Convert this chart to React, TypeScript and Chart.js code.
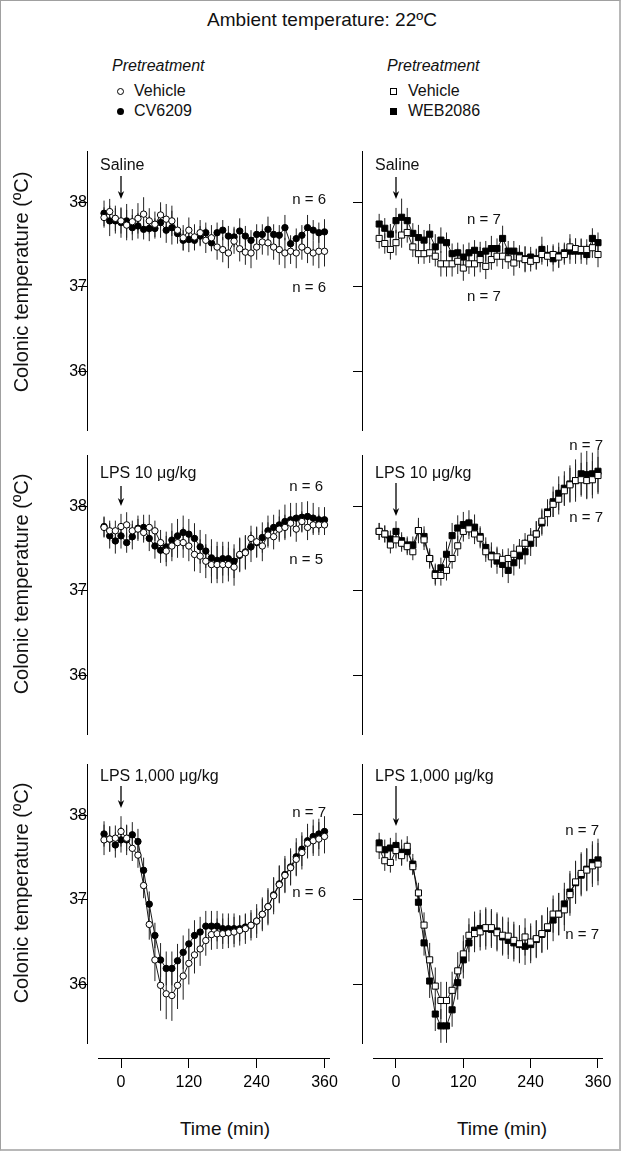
import React, { useEffect, useRef } from "react";
import { Chart, registerables } from "chart.js";

Chart.register(...registerables);

// ---------------- DATA ----------------
const TIMES = [-30, -20, -10, 0, 10, 20, 30, 40, 50, 60, 70, 80, 90, 100, 110, 120, 130, 140, 150, 160, 170, 180, 190, 200, 210, 220, 230, 240, 250, 260, 270, 280, 290, 300, 310, 320, 330, 340, 350, 360];
const X_TICKS = [0, 120, 240, 360];
const Y_TICKS = [36, 37, 38];
const Y_MIN = 35.3;
const Y_MAX = 38.6;
const X_MIN = -40;
const X_MAX = 368;

// Panel 1 (Saline) – left: Vehicle / CV6209
const P1L_CV = [37.87, 37.78, 37.78, 37.76, 37.78, 37.70, 37.72, 37.68, 37.69, 37.69, 37.76, 37.67, 37.70, 37.63, 37.55, 37.56, 37.55, 37.60, 37.64, 37.52, 37.64, 37.67, 37.60, 37.59, 37.66, 37.60, 37.55, 37.62, 37.62, 37.68, 37.62, 37.61, 37.70, 37.51, 37.57, 37.61, 37.70, 37.67, 37.64, 37.65];
const P1L_CV_SEM = [0.15, 0.18, 0.15, 0.18, 0.2, 0.15, 0.15, 0.12, 0.15, 0.12, 0.18, 0.15, 0.2, 0.12, 0.12, 0.15, 0.12, 0.12, 0.12, 0.1, 0.12, 0.12, 0.12, 0.12, 0.15, 0.12, 0.12, 0.12, 0.12, 0.15, 0.12, 0.12, 0.15, 0.1, 0.12, 0.12, 0.15, 0.12, 0.12, 0.15];
const P1L_VEH = [37.82, 37.89, 37.81, 37.78, 37.73, 37.77, 37.81, 37.86, 37.78, 37.74, 37.85, 37.80, 37.78, 37.67, 37.58, 37.67, 37.59, 37.64, 37.55, 37.58, 37.47, 37.44, 37.40, 37.54, 37.45, 37.41, 37.40, 37.47, 37.53, 37.52, 37.47, 37.44, 37.40, 37.42, 37.40, 37.47, 37.43, 37.40, 37.42, 37.42];
const P1L_VEH_SEM = [0.12, 0.15, 0.15, 0.15, 0.18, 0.15, 0.18, 0.2, 0.15, 0.15, 0.15, 0.18, 0.18, 0.15, 0.15, 0.15, 0.15, 0.15, 0.15, 0.15, 0.15, 0.15, 0.18, 0.15, 0.15, 0.15, 0.18, 0.15, 0.15, 0.15, 0.15, 0.18, 0.18, 0.15, 0.18, 0.15, 0.15, 0.15, 0.2, 0.18];

// Panel 1 (Saline) – right: Vehicle / WEB2086
const P1R_WEB = [37.74, 37.69, 37.62, 37.78, 37.82, 37.78, 37.63, 37.58, 37.55, 37.62, 37.47, 37.55, 37.52, 37.39, 37.40, 37.35, 37.40, 37.43, 37.38, 37.42, 37.45, 37.45, 37.57, 37.42, 37.42, 37.37, 37.33, 37.35, 37.33, 37.44, 37.37, 37.33, 37.37, 37.40, 37.42, 37.42, 37.42, 37.38, 37.57, 37.52];
const P1R_WEB_SEM = [0.12, 0.12, 0.12, 0.15, 0.22, 0.15, 0.12, 0.15, 0.12, 0.12, 0.15, 0.15, 0.12, 0.12, 0.12, 0.15, 0.12, 0.12, 0.15, 0.12, 0.15, 0.12, 0.15, 0.12, 0.12, 0.12, 0.15, 0.12, 0.12, 0.15, 0.12, 0.15, 0.15, 0.12, 0.15, 0.15, 0.15, 0.12, 0.12, 0.12];
const P1R_VEH = [37.57, 37.51, 37.44, 37.52, 37.61, 37.64, 37.47, 37.39, 37.39, 37.40, 37.36, 37.27, 37.27, 37.27, 37.30, 37.22, 37.27, 37.27, 37.32, 37.24, 37.32, 37.36, 37.36, 37.33, 37.28, 37.34, 37.32, 37.30, 37.32, 37.38, 37.36, 37.38, 37.35, 37.38, 37.47, 37.45, 37.44, 37.44, 37.46, 37.38];
const P1R_VEH_SEM = [0.12, 0.12, 0.12, 0.15, 0.15, 0.12, 0.12, 0.12, 0.12, 0.12, 0.12, 0.15, 0.15, 0.15, 0.15, 0.15, 0.12, 0.15, 0.15, 0.15, 0.12, 0.12, 0.15, 0.12, 0.15, 0.12, 0.15, 0.12, 0.12, 0.12, 0.12, 0.12, 0.12, 0.12, 0.15, 0.12, 0.12, 0.12, 0.12, 0.15];

// Panel 2 (LPS 10) – left
const P2L_CV = [37.76, 37.65, 37.59, 37.65, 37.57, 37.64, 37.74, 37.75, 37.62, 37.53, 37.48, 37.52, 37.60, 37.65, 37.69, 37.67, 37.62, 37.52, 37.47, 37.39, 37.36, 37.38, 37.38, 37.35, 37.42, 37.46, 37.52, 37.57, 37.63, 37.71, 37.75, 37.78, 37.82, 37.84, 37.86, 37.87, 37.88, 37.86, 37.84, 37.84];
const P2L_CV_SEM = [0.12, 0.15, 0.15, 0.15, 0.12, 0.15, 0.15, 0.15, 0.15, 0.15, 0.15, 0.18, 0.2, 0.2, 0.2, 0.18, 0.18, 0.2, 0.2, 0.22, 0.22, 0.2, 0.2, 0.2, 0.2, 0.2, 0.18, 0.18, 0.18, 0.18, 0.15, 0.18, 0.2, 0.2, 0.18, 0.18, 0.18, 0.18, 0.15, 0.15];
const P2L_VEH = [37.75, 37.71, 37.71, 37.76, 37.78, 37.71, 37.73, 37.69, 37.75, 37.71, 37.57, 37.47, 37.53, 37.57, 37.57, 37.53, 37.43, 37.41, 37.35, 37.31, 37.31, 37.31, 37.31, 37.28, 37.43, 37.45, 37.62, 37.58, 37.53, 37.66, 37.64, 37.73, 37.75, 37.80, 37.73, 37.82, 37.75, 37.78, 37.78, 37.78];
const P2L_VEH_SEM = [0.12, 0.12, 0.12, 0.15, 0.15, 0.12, 0.12, 0.12, 0.15, 0.12, 0.15, 0.18, 0.18, 0.18, 0.18, 0.18, 0.2, 0.2, 0.2, 0.22, 0.22, 0.22, 0.2, 0.22, 0.2, 0.2, 0.15, 0.18, 0.18, 0.15, 0.15, 0.15, 0.15, 0.15, 0.15, 0.12, 0.15, 0.12, 0.12, 0.12];

// Panel 2 (LPS 10) – right
const P2R_WEB = [37.70, 37.67, 37.61, 37.70, 37.59, 37.54, 37.54, 37.71, 37.64, 37.38, 37.20, 37.27, 37.43, 37.65, 37.74, 37.78, 37.80, 37.75, 37.64, 37.51, 37.42, 37.35, 37.31, 37.24, 37.33, 37.41, 37.46, 37.56, 37.67, 37.80, 37.93, 38.05, 38.15, 38.21, 38.26, 38.30, 38.38, 38.37, 38.38, 38.41];
const P2R_WEB_SEM = [0.1, 0.1, 0.1, 0.12, 0.1, 0.1, 0.1, 0.15, 0.12, 0.12, 0.12, 0.12, 0.15, 0.15, 0.15, 0.15, 0.15, 0.15, 0.12, 0.12, 0.15, 0.15, 0.15, 0.15, 0.15, 0.15, 0.15, 0.15, 0.15, 0.15, 0.15, 0.18, 0.2, 0.2, 0.22, 0.25, 0.25, 0.28, 0.25, 0.25];
const P2R_VEH = [37.70, 37.67, 37.54, 37.60, 37.56, 37.52, 37.46, 37.71, 37.60, 37.38, 37.18, 37.18, 37.24, 37.38, 37.53, 37.70, 37.73, 37.67, 37.62, 37.46, 37.40, 37.40, 37.37, 37.38, 37.43, 37.49, 37.56, 37.62, 37.67, 37.82, 37.91, 38.02, 38.08, 38.18, 38.25, 38.30, 38.31, 38.30, 38.31, 38.36];
const P2R_VEH_SEM = [0.1, 0.1, 0.1, 0.1, 0.1, 0.1, 0.1, 0.12, 0.12, 0.1, 0.12, 0.12, 0.12, 0.12, 0.12, 0.12, 0.12, 0.12, 0.12, 0.12, 0.12, 0.12, 0.12, 0.12, 0.12, 0.12, 0.12, 0.12, 0.15, 0.15, 0.15, 0.15, 0.18, 0.18, 0.2, 0.2, 0.2, 0.22, 0.22, 0.22];

// Panel 3 (LPS 1,000) – left
const P3L_CV = [37.78, 37.72, 37.65, 37.71, 37.71, 37.77, 37.69, 37.35, 36.95, 36.58, 36.29, 36.19, 36.19, 36.28, 36.38, 36.48, 36.58, 36.62, 36.69, 36.69, 36.69, 36.66, 36.66, 36.66, 36.66, 36.68, 36.70, 36.75, 36.83, 36.92, 37.06, 37.19, 37.30, 37.39, 37.51, 37.60, 37.70, 37.75, 37.78, 37.81];
const P3L_CV_SEM = [0.15, 0.15, 0.15, 0.15, 0.18, 0.15, 0.15, 0.15, 0.15, 0.15, 0.2, 0.2, 0.2, 0.2, 0.2, 0.18, 0.18, 0.18, 0.18, 0.18, 0.18, 0.18, 0.18, 0.18, 0.15, 0.15, 0.15, 0.15, 0.18, 0.2, 0.2, 0.22, 0.22, 0.22, 0.22, 0.2, 0.2, 0.2, 0.18, 0.18];
const P3L_VEH = [37.71, 37.72, 37.73, 37.81, 37.73, 37.61, 37.53, 37.17, 36.71, 36.29, 35.99, 35.89, 35.87, 35.99, 36.10, 36.25, 36.35, 36.42, 36.52, 36.59, 36.60, 36.60, 36.61, 36.62, 36.64, 36.66, 36.70, 36.75, 36.83, 36.92, 37.05, 37.18, 37.29, 37.38, 37.48, 37.56, 37.67, 37.70, 37.72, 37.75];
const P3L_VEH_SEM = [0.18, 0.15, 0.15, 0.18, 0.15, 0.15, 0.15, 0.15, 0.18, 0.25, 0.3, 0.3, 0.3, 0.28, 0.28, 0.25, 0.22, 0.2, 0.18, 0.18, 0.18, 0.18, 0.18, 0.18, 0.18, 0.18, 0.18, 0.2, 0.2, 0.22, 0.22, 0.22, 0.2, 0.2, 0.2, 0.2, 0.18, 0.18, 0.2, 0.2];

// Panel 3 (LPS 1,000) – right
const P3R_WEB = [37.67, 37.59, 37.61, 37.64, 37.56, 37.57, 37.42, 36.97, 36.49, 36.04, 35.65, 35.51, 35.51, 35.70, 36.02, 36.29, 36.49, 36.64, 36.66, 36.66, 36.65, 36.63, 36.56, 36.52, 36.49, 36.47, 36.45, 36.47, 36.53, 36.59, 36.66, 36.76, 36.83, 36.95, 37.09, 37.20, 37.29, 37.36, 37.44, 37.47];
const P3R_WEB_SEM = [0.12, 0.12, 0.12, 0.15, 0.15, 0.12, 0.12, 0.12, 0.15, 0.2, 0.2, 0.2, 0.2, 0.2, 0.2, 0.22, 0.22, 0.22, 0.22, 0.25, 0.22, 0.22, 0.22, 0.22, 0.22, 0.22, 0.22, 0.22, 0.22, 0.22, 0.25, 0.25, 0.25, 0.25, 0.25, 0.25, 0.25, 0.25, 0.25, 0.25];
const P3R_VEH = [37.60, 37.46, 37.44, 37.58, 37.52, 37.63, 37.39, 37.08, 36.70, 36.29, 35.98, 35.81, 35.81, 35.93, 36.16, 36.36, 36.58, 36.60, 36.62, 36.67, 36.67, 36.61, 36.58, 36.57, 36.52, 36.48, 36.56, 36.50, 36.54, 36.60, 36.68, 36.83, 36.83, 36.88, 37.06, 37.21, 37.31, 37.35, 37.40, 37.42];
const P3R_VEH_SEM = [0.12, 0.12, 0.12, 0.12, 0.12, 0.12, 0.1, 0.12, 0.15, 0.2, 0.22, 0.22, 0.22, 0.22, 0.22, 0.22, 0.2, 0.22, 0.22, 0.22, 0.22, 0.22, 0.22, 0.22, 0.22, 0.22, 0.22, 0.22, 0.22, 0.22, 0.22, 0.22, 0.25, 0.25, 0.25, 0.25, 0.25, 0.25, 0.25, 0.25];

// ---------------- LAYOUT / STYLE ----------------
const FONT = '"Liberation Sans", Arial, Helvetica, sans-serif';
const PX_PER_DEG = 84.7;
const ROW_Y38 = [201, 505, 814];

type ColDef = {
  zeroPx: number; pxPerMin: number; canvasLeft: number; canvasRight: number;
  yAxisPx: number; labels: boolean; pointStyle: "circle" | "rect"; radius: number;
};
const COLS: ColDef[] = [
  { zeroPx: 120, pxPerMin: 203.5 / 360, canvasLeft: 28, canvasRight: 345, yAxisPx: 86, labels: true, pointStyle: "circle", radius: 3.2 },
  { zeroPx: 395, pxPerMin: 202 / 360, canvasLeft: 345, canvasRight: 621, yAxisPx: 361, labels: false, pointStyle: "rect", radius: 4.3 },
];

type PanelDef = { col: number; row: number; drug: number[]; drugSem: number[]; veh: number[]; vehSem: number[] };
const PANELS: PanelDef[] = [
  { col: 0, row: 0, drug: P1L_CV, drugSem: P1L_CV_SEM, veh: P1L_VEH, vehSem: P1L_VEH_SEM },
  { col: 1, row: 0, drug: P1R_WEB, drugSem: P1R_WEB_SEM, veh: P1R_VEH, vehSem: P1R_VEH_SEM },
  { col: 0, row: 1, drug: P2L_CV, drugSem: P2L_CV_SEM, veh: P2L_VEH, vehSem: P2L_VEH_SEM },
  { col: 1, row: 1, drug: P2R_WEB, drugSem: P2R_WEB_SEM, veh: P2R_VEH, vehSem: P2R_VEH_SEM },
  { col: 0, row: 2, drug: P3L_CV, drugSem: P3L_CV_SEM, veh: P3L_VEH, vehSem: P3L_VEH_SEM },
  { col: 1, row: 2, drug: P3R_WEB, drugSem: P3R_WEB_SEM, veh: P3R_VEH, vehSem: P3R_VEH_SEM },
];

function Panel({ def }: { def: PanelDef }) {
  const ref = useRef<HTMLCanvasElement | null>(null);
  const col = COLS[def.col];
  const isBottom = def.row === 2;
  const areaLeft = col.zeroPx + X_MIN * col.pxPerMin;
  const areaRight = col.zeroPx + X_MAX * col.pxPerMin;
  const areaTop = ROW_Y38[def.row] - (Y_MAX - 38) * PX_PER_DEG;
  const areaBottom = ROW_Y38[def.row] + (38 - Y_MIN) * PX_PER_DEG;
  const top = Math.floor(areaTop - 14);
  const bottom = Math.ceil(areaBottom + (isBottom ? 60 : 14));
  const width = col.canvasRight - col.canvasLeft;
  const height = bottom - top;

  useEffect(() => {
    const series = (m: number[]) => TIMES.map((t, i) => ({ x: t, y: m[i] }));
    const errs = (m: number[], s: number[]) => {
      const out: any[] = [];
      TIMES.forEach((t, i) => {
        out.push({ x: t, y: m[i] - s[i] }, { x: t, y: m[i] + s[i] }, { x: t, y: null });
      });
      return out;
    };
    const yAxisAt = X_MIN + (col.yAxisPx - areaLeft) / col.pxPerMin;
    const xAxisAt = Y_MIN - 15 / PX_PER_DEG;
    const errStyle = { borderColor: "#222", borderWidth: 1, pointRadius: 0, spanGaps: false, clip: false as any, showLine: true };
    const markStyle = {
      borderColor: "#000", borderWidth: 0.9, pointStyle: col.pointStyle, pointRadius: col.radius,
      pointBorderColor: "#000", pointBorderWidth: 1, clip: false as any, tension: 0,
    };
    const axisCommon = {
      grid: { display: true, drawOnChartArea: false, drawTicks: true, tickLength: 9, color: "#000", lineWidth: 1 },
      border: { display: true, color: "#000", width: 1 },
    };
    const chart = new Chart(ref.current as HTMLCanvasElement, {
      type: "line",
      data: {
        datasets: [
          { ...markStyle, data: series(def.veh), order: 1, pointBackgroundColor: "#fff", backgroundColor: "#fff" },
          { ...markStyle, data: series(def.drug), order: 2, pointBackgroundColor: "#000", backgroundColor: "#000" },
          { ...errStyle, data: errs(def.drug, def.drugSem), order: 3 },
          { ...errStyle, data: errs(def.veh, def.vehSem), order: 4 },
        ] as any,
      },
      options: {
        responsive: false,
        animation: false,
        devicePixelRatio: 1,
        events: [],
        layout: {
          padding: {
            left: areaLeft - col.canvasLeft,
            right: col.canvasRight - areaRight,
            top: areaTop - top,
            bottom: bottom - areaBottom,
          },
        },
        plugins: { legend: { display: false }, tooltip: { enabled: false } },
        scales: {
          x: {
            type: "linear",
            min: X_MIN,
            max: X_MAX,
            display: isBottom,
            position: isBottom ? ({ y: xAxisAt } as any) : "bottom",
            afterBuildTicks: (s: any) => { s.ticks = X_TICKS.map((v) => ({ value: v })); },
            ...axisCommon,
            ticks: { color: "#000", font: { family: FONT, size: 16 }, padding: 5, maxRotation: 0, autoSkip: false },
          },
          y: {
            type: "linear",
            min: Y_MIN,
            max: Y_MAX,
            position: { x: yAxisAt } as any,
            afterBuildTicks: (s: any) => { s.ticks = Y_TICKS.map((v) => ({ value: v })); },
            ...axisCommon,
            ticks: { display: col.labels, color: "#000", font: { family: FONT, size: 16 }, padding: 5 },
          },
        } as any,
      },
    });
    return () => chart.destroy();
  }, []);

  return (
    <canvas
      ref={ref}
      width={width}
      height={height}
      style={{ position: "absolute", left: col.canvasLeft, top, width, height }}
    />
  );
}

type TextDef = { text: string; x: number; y: number; align?: "left" | "right" | "center"; size?: number; italic?: boolean };
const TEXTS: TextDef[] = [
  { text: "Ambient temperature: 22ºC", x: 321, y: 18, align: "center", size: 19 },
  { text: "Pretreatment", x: 111, y: 65, italic: true, size: 16 },
  { text: "Vehicle", x: 133, y: 90, size: 16 },
  { text: "CV6209", x: 133, y: 110, size: 16 },
  { text: "Pretreatment", x: 386, y: 65, italic: true, size: 16 },
  { text: "Vehicle", x: 407, y: 90, size: 16 },
  { text: "WEB2086", x: 407, y: 110, size: 16 },
  { text: "Saline", x: 99, y: 164, size: 16 },
  { text: "n = 6", x: 325, y: 197, align: "right", size: 15 },
  { text: "n = 6", x: 325, y: 285, align: "right", size: 15 },
  { text: "Saline", x: 374, y: 164, size: 16 },
  { text: "n = 7", x: 483, y: 217, align: "center", size: 15 },
  { text: "n = 7", x: 483, y: 294, align: "center", size: 15 },
  { text: "LPS 10 μg/kg", x: 99, y: 472, size: 16 },
  { text: "n = 6", x: 322, y: 484, align: "right", size: 15 },
  { text: "n = 5", x: 322, y: 557, align: "right", size: 15 },
  { text: "LPS 10 μg/kg", x: 374, y: 472, size: 16 },
  { text: "n = 7", x: 602, y: 443, align: "right", size: 15 },
  { text: "n = 7", x: 602, y: 515, align: "right", size: 15 },
  { text: "LPS 1,000 μg/kg", x: 99, y: 775, size: 16 },
  { text: "n = 7", x: 325, y: 810, align: "right", size: 15 },
  { text: "n = 6", x: 325, y: 890, align: "right", size: 15 },
  { text: "LPS 1,000 μg/kg", x: 374, y: 775, size: 16 },
  { text: "n = 7", x: 598, y: 828, align: "right", size: 15 },
  { text: "n = 7", x: 598, y: 932, align: "right", size: 15 },
  { text: "Time (min)", x: 224, y: 1127, align: "center", size: 19 },
  { text: "Time (min)", x: 501, y: 1127, align: "center", size: 19 },
];

const Y_TITLE_CENTERS = [281, 583, 892];
const ARROWS = [
  { x: 120, y1: 175, y2: 198 },
  { x: 395, y1: 176, y2: 198 },
  { x: 120, y1: 485, y2: 505 },
  { x: 395, y1: 482, y2: 515 },
  { x: 120, y1: 785, y2: 807 },
  { x: 395, y1: 785, y2: 825 },
];

function Txt({ d }: { d: TextDef }) {
  const tx = d.align === "right" ? "-100%" : d.align === "center" ? "-50%" : "0";
  return (
    <div
      style={{
        position: "absolute", left: d.x, top: d.y, transform: `translate(${tx}, -50%)`,
        whiteSpace: "nowrap", fontFamily: FONT, fontSize: d.size ?? 16, fontStyle: d.italic ? "italic" : "normal",
        color: "#111", lineHeight: 1,
      }}
    >
      {d.text}
    </div>
  );
}

export default function App() {
  return (
    <div
      style={{
        position: "absolute", left: 0, top: 0, width: 621, height: 1151, boxSizing: "border-box",
        borderTop: "1px solid #a0a0a0", borderLeft: "1px solid #a0a0a0",
        borderRight: "2px solid #b8b8b8", borderBottom: "2px solid #b8b8b8",
        background: "#fff", overflow: "hidden",
      }}
    >
      {PANELS.map((p, i) => (
        <Panel key={i} def={p} />
      ))}
      {TEXTS.map((t, i) => (
        <Txt key={i} d={t} />
      ))}
      {Y_TITLE_CENTERS.map((yc, i) => (
        <div
          key={"yt" + i}
          style={{
            position: "absolute", left: 19.5, top: yc, transform: "translate(-50%, -50%) rotate(-90deg)",
            whiteSpace: "nowrap", fontFamily: FONT, fontSize: 20, color: "#111", lineHeight: 1,
          }}
        >
          Colonic temperature (ºC)
        </div>
      ))}
      {/* legend symbols */}
      <div style={{ position: "absolute", left: 116, top: 87, width: 5, height: 5, border: "1px solid #000", borderRadius: "50%", background: "#fff" }} />
      <div style={{ position: "absolute", left: 116, top: 107, width: 7, height: 7, borderRadius: "50%", background: "#000" }} />
      <div style={{ position: "absolute", left: 389, top: 87, width: 5, height: 5, border: "1px solid #000", background: "#fff" }} />
      <div style={{ position: "absolute", left: 389, top: 107, width: 7, height: 7, background: "#000" }} />
      <svg width={621} height={1151} style={{ position: "absolute", left: 0, top: 0, pointerEvents: "none" }}>
        {ARROWS.map((a, i) => (
          <g key={i}>
            <line x1={a.x} y1={a.y1} x2={a.x} y2={a.y2 - 3} stroke="#000" strokeWidth={1.3} />
            <path d={`M ${a.x - 3.2} ${a.y2 - 8} L ${a.x} ${a.y2} L ${a.x + 3.2} ${a.y2 - 8} L ${a.x} ${a.y2 - 5.5} Z`} fill="#000" />
          </g>
        ))}
      </svg>
    </div>
  );
}
